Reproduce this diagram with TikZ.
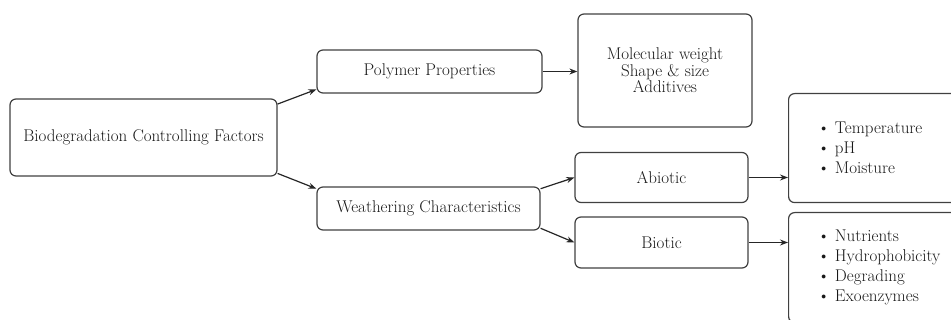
\documentclass[tikz,border=0pt]{standalone}
\usetikzlibrary{arrows.meta,positioning}
\begin{document}
\begin{tikzpicture}[x=1pt, y=-1pt,
   nodes={font=\fontsize{17}{19}\selectfont, text=black!90},
   box/.style={draw=black!75, line width=1.2pt, rounded corners=6pt, align=center, inner sep=0pt},
   listbox/.style={box, anchor=north west, align=left, inner xsep=29pt, text width=170pt,
         font=\fontsize{17}{20}\selectfont},
   link/.style={draw=black!85, line width=1.2pt, -{Stealth[length=8pt,width=6pt]}}]
   \clip (0,0) rectangle (951,320);
   % left and middle column
   \node[box, minimum width=267pt, minimum height=77pt] (factors) at (143.5,137.5) {Biodegradation Controlling Factors};
   \node[box, minimum width=225pt, minimum height=43pt] (polymer) at (429.5,71.5) {Polymer Properties};
   \node[box, minimum width=223pt, minimum height=43pt] (weather) at (428.5,208.5) {Weathering Characteristics};
   % right columns
   \node[box, minimum width=174pt, minimum height=113pt, font=\fontsize{17}{15}\selectfont] (molec) at (665,70.5)
         {Molecular weight\\ Shape \& size\\ Additives};
   \node[box, minimum width=173pt, minimum height=50pt] (abiotic) at (661.5,177.5) {Abiotic};
   \node[box, minimum width=173pt, minimum height=51pt] (biotic) at (661.5,242.5) {Biotic};
   \node[listbox, minimum height=109pt] (abioticlist) at (788,93)
         {\textbullet\hspace{5pt}Temperature\\ \textbullet\hspace{5pt}pH\\ \textbullet\hspace{5pt}Moisture\\[3pt]};
   \node[listbox, minimum height=110pt] (bioticlist) at (788,212)
         {\textbullet\hspace{5pt}Nutrients\\ \textbullet\hspace{5pt}Hydrophobicity\\ \textbullet\hspace{5pt}Degrading\\ \textbullet\hspace{5pt}Exoenzymes};
   % connectors
   \draw[link] (factors.14) -- (polymer.189);
   \draw[link] (factors.-15) -- (weather.170);
   \draw[link] (polymer.east) -- (polymer.east -| molec.west);
   \draw[link] (weather.10) -- (abiotic.west);
   \draw[link] (weather.-10) -- (biotic.west);
   \draw[link] (abiotic.east) -- (abiotic.east -| abioticlist.west);
   \draw[link] (biotic.east) -- (biotic.east -| bioticlist.west);
\end{tikzpicture}
\end{document}
